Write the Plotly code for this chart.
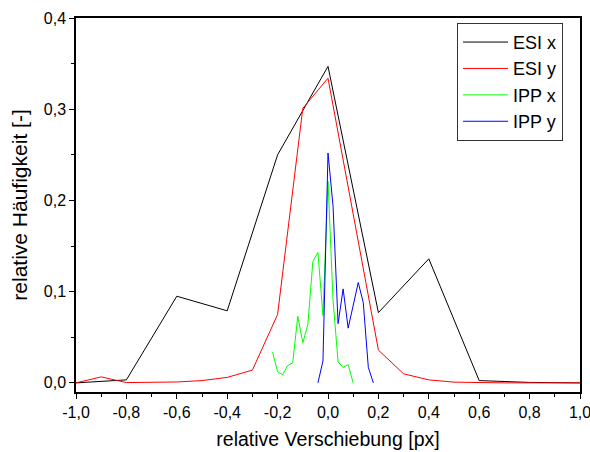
import plotly.graph_objects as go

# ESI x (0.2 steps)
esi_x_pos = [-1.0, -0.8, -0.6, -0.4, -0.2, 0.0, 0.2, 0.4, 0.6, 0.8, 1.0]
esi_x_val = [0.0, 0.0033, 0.095, 0.079, 0.250, 0.347, 0.077, 0.136, 0.0025, 0.0005, 0.0]

# ESI y (0.1 steps)
esi_y_pos = [-1.0, -0.9, -0.8, -0.7, -0.6, -0.5, -0.4, -0.3, -0.2, -0.1, 0.0,
             0.1, 0.2, 0.3, 0.4, 0.5, 0.6, 0.7, 0.8, 0.9, 1.0]
esi_y_val = [0.0, 0.0066, 0.0003, 0.0005, 0.001, 0.0025, 0.006, 0.014, 0.075, 0.301, 0.334,
             0.185, 0.036, 0.0099, 0.0033, 0.0008, 0.0, 0.0, 0.0, 0.0, 0.0]

# IPP x (0.02 steps)
ipp_x_pos = [-0.22, -0.20, -0.18, -0.16, -0.14, -0.12, -0.10, -0.08, -0.06, -0.04, -0.02,
             0.00, 0.02, 0.04, 0.06, 0.08, 0.10]
ipp_x_val = [0.034, 0.012, 0.009, 0.019, 0.022, 0.073, 0.044, 0.064, 0.133, 0.143, 0.074,
             0.221, 0.091, 0.023, 0.017, 0.020, 0.0]

# IPP y (0.02 steps)
ipp_y_pos = [-0.04, -0.02, 0.00, 0.02, 0.04, 0.06, 0.08, 0.10, 0.12, 0.14, 0.16, 0.18]
ipp_y_val = [0.0, 0.024, 0.252, 0.194, 0.065, 0.103, 0.060, 0.085, 0.110, 0.088, 0.017, 0.0]

x_tickvals = [-1.0, -0.8, -0.6, -0.4, -0.2, 0.0, 0.2, 0.4, 0.6, 0.8, 1.0]
x_ticktext = ["-1,0", "-0,8", "-0,6", "-0,4", "-0,2", "0,0", "0,2", "0,4", "0,6", "0,8", "1,0"]
y_tickvals = [0.0, 0.1, 0.2, 0.3, 0.4]
y_ticktext = ["0,0", "0,1", "0,2", "0,3", "0,4"]

FONT = "Liberation Sans, Arial, sans-serif"

fig = go.Figure()
fig.add_trace(go.Scatter(x=esi_x_pos, y=esi_x_val, mode="lines", name="ESI x",
                         line=dict(color="#000000", width=1)))
fig.add_trace(go.Scatter(x=esi_y_pos, y=esi_y_val, mode="lines", name="ESI y",
                         line=dict(color="#ff0000", width=1)))
fig.add_trace(go.Scatter(x=ipp_x_pos, y=ipp_x_val, mode="lines", name="IPP x",
                         line=dict(color="#00ff00", width=1)))
fig.add_trace(go.Scatter(x=ipp_y_pos, y=ipp_y_val, mode="lines", name="IPP y",
                         line=dict(color="#0000ff", width=1)))

fig.update_layout(
    width=590, height=452,
    margin=dict(l=76, r=10, t=18, b=60),
    paper_bgcolor="white", plot_bgcolor="white",
    font=dict(family=FONT, size=16, color="black"),
    showlegend=True,
    legend=dict(x=0.756, y=0.987, xanchor="left", yanchor="top",
                bgcolor="white", bordercolor="#333333", borderwidth=1,
                font=dict(size=18), itemwidth=45, tracegroupgap=0),
    xaxis=dict(range=[-1.0, 1.0], tickvals=x_tickvals, ticktext=x_ticktext,
               ticks="outside", ticklen=5, tickwidth=1, tickcolor="black",
               ticklabeloverflow="allow",
               showline=True, linecolor="black", linewidth=1.5, mirror=True,
               showgrid=False, zeroline=False,
               minor=dict(ticks="outside", ticklen=3, dtick=0.1, tick0=0, tickcolor="black"),
               title=dict(text="relative Verschiebung [px]", font=dict(size=19.5), standoff=12),
               automargin=False),
    yaxis=dict(range=[-0.01, 0.4], tickvals=y_tickvals, ticktext=y_ticktext,
               ticks="outside", ticklen=5, tickwidth=1, tickcolor="black",
               showline=True, linecolor="black", linewidth=1.5, mirror=True,
               showgrid=False, zeroline=False,
               minor=dict(ticks="outside", ticklen=3, dtick=0.05, tick0=0, tickcolor="black"),
               title=dict(text="relative Häufigkeit [-]", font=dict(size=21), standoff=10),
               automargin=False),
)

fig.write_html("out.html")
